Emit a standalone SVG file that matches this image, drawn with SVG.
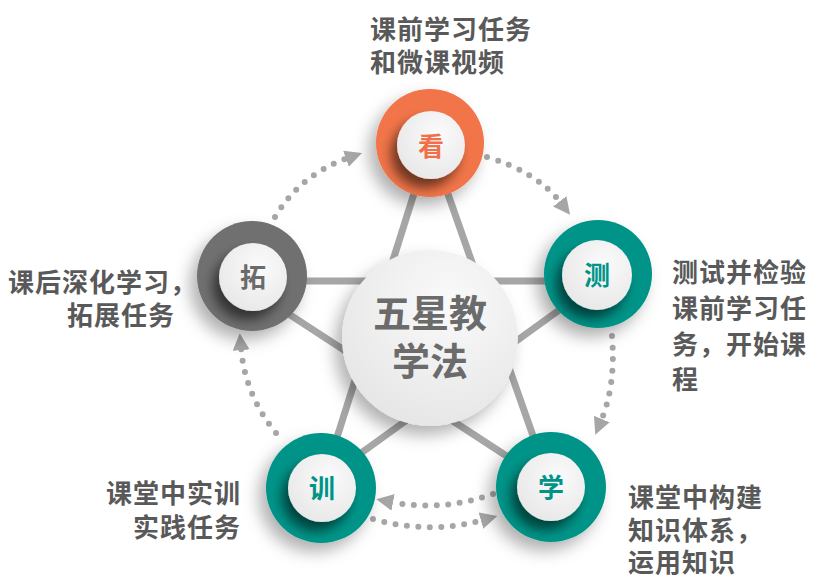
<svg xmlns="http://www.w3.org/2000/svg" width="818" height="588" viewBox="0 0 818 588">
<defs>
<style>
.lbl{font-family:"Noto Sans CJK SC","Microsoft YaHei",sans-serif;font-weight:bold;font-size:26px;letter-spacing:1px;fill:#595959}
.ctr{font-family:"Noto Sans CJK SC",sans-serif;font-weight:bold;font-size:38px;fill:#6b6b6b;text-anchor:middle}
.nt{font-family:"Noto Sans CJK SC",sans-serif;font-weight:bold;font-size:26px;text-anchor:middle}
.star{stroke:#a6a6a6;stroke-width:7;fill:none}
.dots{stroke:#a6a6a6;stroke-width:6;stroke-linecap:round;stroke-dasharray:0 11.5;fill:none}
</style>
<radialGradient id="wg" cx="0.6" cy="0.35" r="0.75">
<stop offset="0" stop-color="#fbfbfb"/><stop offset="1" stop-color="#e6e6e6"/>
</radialGradient>
<radialGradient id="cg" cx="0.6" cy="0.3" r="0.8">
<stop offset="0" stop-color="#fafafa"/><stop offset="1" stop-color="#e4e4e4"/>
</radialGradient>
<filter id="outer" x="-50%" y="-50%" width="200%" height="200%">
<feDropShadow dx="-7" dy="9" stdDeviation="8" flood-color="#000" flood-opacity="0.3"/>
</filter>
<filter id="inner" x="-60%" y="-60%" width="220%" height="220%">
<feDropShadow dx="-6" dy="9" stdDeviation="6" flood-color="#000" flood-opacity="0.55"/>
</filter>
<marker id="ah" viewBox="0 0 16 16" refX="2" refY="8" markerWidth="17" markerHeight="17" markerUnits="userSpaceOnUse" orient="auto">
<path d="M0,0 L16,8 L0,16 Z" fill="#a6a6a6"/>
</marker>
</defs>
<rect width="818" height="588" fill="#ffffff"/>
<g id="connectors">
<line class="star" x1="430" y1="143" x2="321" y2="488"/>
<line class="star" x1="430" y1="143" x2="551" y2="487"/>
<line class="star" x1="252" y1="281" x2="598" y2="281"/>
<line class="star" x1="252" y1="290" x2="551" y2="485"/>
<line class="star" x1="598" y1="282" x2="321" y2="482"/>
<path class="dots" d="M275,217 Q300,175 348,158" marker-end="url(#ah)"/>
<path class="dots" d="M487,157 Q537,172 561,203" marker-end="url(#ah)"/>
<path class="dots" d="M612,336 Q616,385 601,421" marker-end="url(#ah)"/>
<path class="dots" d="M493,494 Q442,512 391,502" marker-end="url(#ah)"/>
<path class="dots" d="M373,519 Q430,535 483,520" marker-end="url(#ah)"/>
<path class="dots" d="M276,433 Q245,395 241,348" marker-end="url(#ah)"/>
</g>
<g id="center">
<circle cx="430" cy="338" r="88" fill="url(#cg)" filter="url(#outer)"/>
<text class="ctr" x="430" y="327">五星教</text>
<text class="ctr" x="430" y="375">学法</text>
</g>
<g id="node-kan">
<circle cx="430" cy="143" r="54" fill="#f2744a" filter="url(#outer)"/>
<circle cx="431" cy="145" r="34" fill="url(#wg)" filter="url(#inner)"/>
<text class="nt" x="431" y="156" fill="#f0704a">看</text>
</g>
<g id="node-tuo">
<circle cx="252" cy="276" r="55" fill="#6f6f6f" filter="url(#outer)"/>
<circle cx="253" cy="277" r="34" fill="url(#wg)" filter="url(#inner)"/>
<text class="nt" x="253" y="287" fill="#6b6b6b">拓</text>
</g>
<g id="node-ce">
<circle cx="598" cy="274" r="54" fill="#009488" filter="url(#outer)"/>
<circle cx="597" cy="275" r="35" fill="url(#wg)" filter="url(#inner)"/>
<text class="nt" x="597" y="285" fill="#009488">测</text>
</g>
<g id="node-xue">
<circle cx="551" cy="487" r="55" fill="#009488" filter="url(#outer)"/>
<circle cx="551" cy="487" r="34" fill="url(#wg)" filter="url(#inner)"/>
<text class="nt" x="551" y="497" fill="#009488">学</text>
</g>
<g id="node-xun">
<circle cx="321" cy="488" r="55" fill="#009488" filter="url(#outer)"/>
<circle cx="322" cy="488" r="34" fill="url(#wg)" filter="url(#inner)"/>
<text class="nt" x="322" y="498" fill="#009488">训</text>
</g>
<g id="labels">
<text class="lbl" x="370" y="39">课前学习任务</text>
<text class="lbl" x="370" y="72">和微课视频</text>
<text class="lbl" x="672" y="282">测试并检验</text>
<text class="lbl" x="672" y="318">课前学习任</text>
<text class="lbl" x="672" y="354">务，开始课</text>
<text class="lbl" x="672" y="389">程</text>
<text class="lbl" x="8" y="292">课后深化学习，</text>
<text class="lbl" x="67" y="325">拓展任务</text>
<text class="lbl" x="241" y="503" text-anchor="end">课堂中实训</text>
<text class="lbl" x="241" y="537" text-anchor="end">实践任务</text>
<text class="lbl" x="628" y="507">课堂中构建</text>
<text class="lbl" x="628" y="540">知识体系，</text>
<text class="lbl" x="628" y="572">运用知识</text>
</g>
</svg>
